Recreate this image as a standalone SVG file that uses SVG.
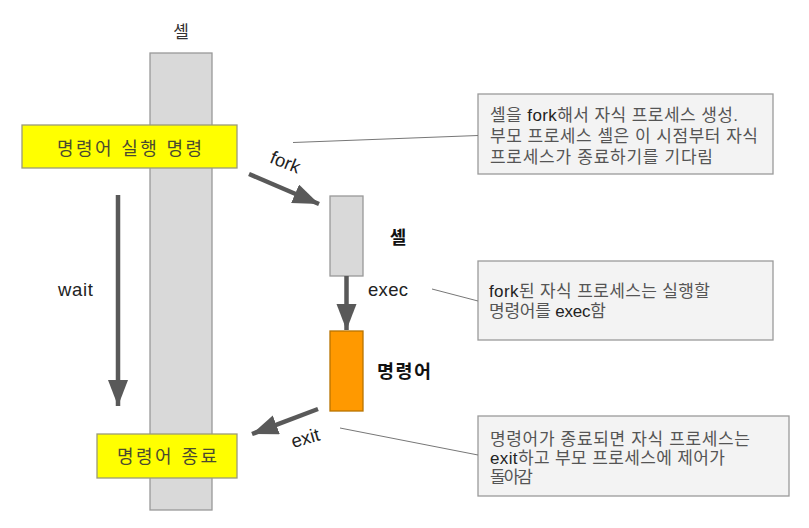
<svg xmlns="http://www.w3.org/2000/svg" width="809" height="528" viewBox="0 0 809 528">
<style>
text{font-family:"Liberation Sans","Noto Sans CJK KR",sans-serif}
.lbl{font-size:18.5px;fill:#222}
.note{font-size:17px;fill:#555}
.dk{fill:#222}
.note-box{fill:#f3f3f3;stroke:#9a9a9a;stroke-width:1.3}
.arrow{stroke:#595959;stroke-width:4.5;fill:none}
.call{stroke:#777;stroke-width:1;fill:none}
.ybox{fill:#ffff00;stroke:#9a9a7a;stroke-width:1.3}
.gbox{fill:#d9d9d9;stroke:#999;stroke-width:1.3}
</style>
<defs>
<marker id="ah" markerUnits="userSpaceOnUse" markerWidth="28" markerHeight="22" refX="26" refY="10" orient="auto">
<path d="M0,0 L26,10 L0,20 Z" fill="#595959"/>
</marker>
</defs>
<rect width="809" height="528" fill="#fff"/>

<g id="shell-column">
<rect class="gbox" x="150" y="53" width="62" height="457"/>
<text x="181" y="38" text-anchor="middle" style="font-size:17px;fill:#333">셸</text>
</g>

<g id="cmd-run">
<rect class="ybox" x="22" y="125" width="215" height="43"/>
<text x="57" y="155" textLength="145" lengthAdjust="spacing" style="font-size:18px;fill:#4a4a30">명령어 실행 명령</text>
</g>

<g id="cmd-end">
<rect class="ybox" x="97" y="434" width="140" height="44"/>
<text x="117" y="463" textLength="100" lengthAdjust="spacing" style="font-size:18px;fill:#4a4a30">명령어 종료</text>
</g>

<g id="child-shell">
<rect class="gbox" x="330" y="196" width="33" height="80"/>
<text x="398" y="244" text-anchor="middle" style="font-size:18px;font-weight:bold;fill:#111">셸</text>
</g>

<g id="child-cmd">
<rect x="330" y="331" width="33" height="80" fill="#ff9900" stroke="#b87300" stroke-width="1.3"/>
<text x="377" y="378" textLength="54" lengthAdjust="spacing" style="font-size:18.5px;font-weight:bold;fill:#111">명령어</text>
</g>

<g id="note-fork">
<rect class="note-box" x="478" y="94" width="295" height="80"/>
<text class="note" x="490" y="121" textLength="248" lengthAdjust="spacing">셸을 <tspan class="dk">fork</tspan>해서 자식 프로세스 생성.</text>
<text class="note" x="490" y="142" textLength="268" lengthAdjust="spacing">부모 프로세스 셸은 이 시점부터 자식</text>
<text class="note" x="490" y="163" textLength="223" lengthAdjust="spacing">프로세스가 종료하기를 기다림</text>
</g>

<g id="note-exec">
<rect class="note-box" x="478" y="261" width="295" height="79"/>
<text class="note" x="489" y="297" textLength="221" lengthAdjust="spacing"><tspan class="dk">fork</tspan>된 자식 프로세스는 실행할</text>
<text class="note" x="489" y="317" textLength="117" lengthAdjust="spacing">명령어를 <tspan class="dk">exec</tspan>함</text>
</g>

<g id="note-exit">
<rect class="note-box" x="478" y="416" width="311" height="80"/>
<text class="note" x="490" y="445" textLength="260" lengthAdjust="spacing">명령어가 종료되면 자식 프로세스는</text>
<text class="note" x="490" y="464" textLength="235" lengthAdjust="spacing"><tspan class="dk">exit</tspan>하고 부모 프로세스에 제어가</text>
<text class="note" x="490" y="483" textLength="43" lengthAdjust="spacing">돌아감</text>
</g>

<g id="connectors">
<line class="arrow" x1="118" y1="195" x2="118" y2="406" marker-end="url(#ah)"/>
<line class="arrow" x1="249" y1="174" x2="319" y2="204" marker-end="url(#ah)"/>
<line class="arrow" x1="346.5" y1="276" x2="346.5" y2="330" marker-end="url(#ah)"/>
<line class="arrow" x1="318" y1="409" x2="252" y2="434" marker-end="url(#ah)"/>
<line class="call" x1="293" y1="142.5" x2="478" y2="135.5"/>
<line class="call" x1="432" y1="289" x2="478" y2="301"/>
<line class="call" x1="340" y1="428" x2="478" y2="455"/>
<text class="lbl" x="58" y="296" textLength="35" lengthAdjust="spacing">wait</text>
<text class="lbl" x="368" y="296" textLength="40" lengthAdjust="spacing">exec</text>
<text class="lbl" transform="translate(283,168) rotate(22)" text-anchor="middle">fork</text>
<text class="lbl" transform="translate(307,444) rotate(-16)" text-anchor="middle">exit</text>
</g>
</svg>
